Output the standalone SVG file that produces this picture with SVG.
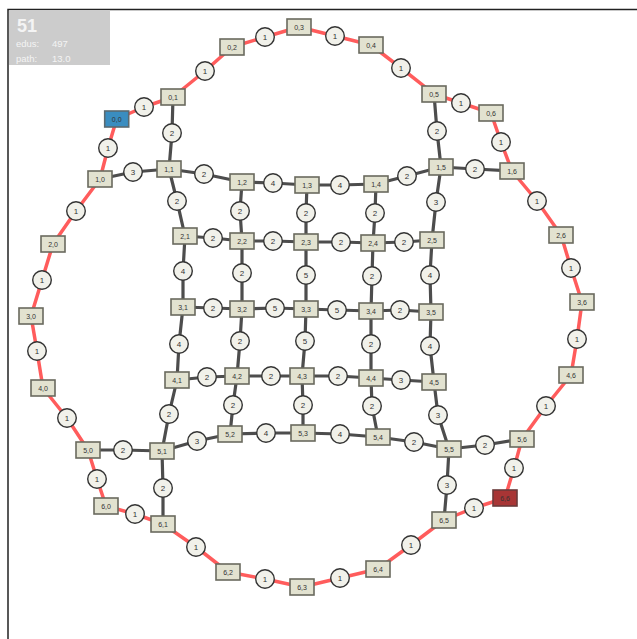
<svg xmlns="http://www.w3.org/2000/svg" width="637" height="639" viewBox="0 0 637 639">
<style>
.bg{fill:#ffffff}
.frame{stroke:#222;stroke-width:1.5;fill:none}
.ring{stroke:#ff5c5c;stroke-width:3.5;fill:none;stroke-linejoin:round}
.grid{stroke:#4d4d4d;stroke-width:3.2;fill:none;stroke-linejoin:round}
.n rect{fill:#e2e2d0;stroke:#6a6a5e;stroke-width:1.6}
.n text{font-family:"Liberation Sans",Arial,sans-serif;font-size:7px;fill:#333;text-anchor:middle;dominant-baseline:central}
.w circle{fill:#f1f1ea;stroke:#333;stroke-width:1.4}
.w text{font-family:"Liberation Sans",Arial,sans-serif;font-size:8px;fill:#333;text-anchor:middle;dominant-baseline:central}
.info{font-family:"Liberation Sans",Arial,sans-serif;fill:#f4f4f4}
</style>
<rect class="bg" x="0" y="0" width="637" height="639"/>
<path class="frame" d="M8,639 V9.5 H637"/>
<g id="info">
<rect x="9" y="10" width="101" height="55" fill="#cccccc"/>
<text class="info" x="17" y="32" font-size="18" font-weight="bold">51</text>
<text class="info" x="16" y="47" font-size="9.5">edus:</text>
<text class="info" x="52" y="47" font-size="9.5">497</text>
<text class="info" x="16" y="62" font-size="9.5">path:</text>
<text class="info" x="52" y="62" font-size="9.5">13.0</text>
</g>
<g id="connectors">
<path class="ring" d="M116.7,119 L144,107 L173,97 L205,71 L232,47 L265,37 L299,27 L335,36 L371,45 L401,68 L434,94 L461,103 L491,113 L501,142 L512,171 L537,201 L561,235 L571,268 L582,302 L577,339 L571,375 L546,406 L522,439 L514,468 L505,498"/>
<path class="ring" d="M116.7,119 L108,148 L100,179 L76,211 L53,244 L42,280 L31,316 L37,351 L43,388 L67,418 L88,450 L97,479 L106,506 L135,514 L163,524 L196,547 L228,572 L265,579 L302,587 L340,578 L378,569 L411,545 L444,520 L474,508 L505,498"/>
<g class="grid">
<path d="M173,97 L172,133 L169,169"/>
<path d="M434,94 L437,131 L441,167"/>
<path d="M100,179 L133,172 L169,169 L204,174 L242,182 L273,183 L307,185 L340,185 L376,184 L407,176 L441,167 L475,169 L512,171"/>
<path d="M185,236 L213,238 L242,241 L273,241 L306,242 L341,242 L373,243 L404,242 L432,240"/>
<path d="M183,307 L213,308 L242,309 L275,308 L306,309 L337,310 L371,311 L400,310 L431,312"/>
<path d="M177,380 L207,377 L237,376 L271,376 L302,376 L338,376 L371,378 L401,380 L434,382"/>
<path d="M88,450 L123,450 L162,451 L197,441 L230,434 L266,433 L303,433 L340,434 L378,437 L414,442 L449,449 L485,445 L522,439"/>
<path d="M169,169 L177,201 L185,236 L183,271 L183,307 L179,344 L177,380 L169,414 L162,451 L163,488 L163,524"/>
<path d="M242,182 L240,211 L242,241 L242,273 L242,309 L240,341 L237,376 L233,405 L230,434"/>
<path d="M307,185 L306,213 L306,242 L306,275 L306,309 L305,341 L302,376 L303,405 L303,433"/>
<path d="M376,184 L375,213 L373,243 L372,276 L371,311 L371,344 L371,378 L372,406 L378,437"/>
<path d="M441,167 L436,202 L432,240 L430,275 L431,312 L430,346 L434,382 L438,415 L449,449 L447,485 L444,520"/>
</g>
</g>
<g id="weights">
<g class="w" id="w-ring">
<circle cx="144" cy="107" r="9.3"/><text x="144" y="107">1</text>
<circle cx="205" cy="71" r="9.3"/><text x="205" y="71">1</text>
<circle cx="265" cy="37" r="9.3"/><text x="265" y="37">1</text>
<circle cx="335" cy="36" r="9.3"/><text x="335" y="36">1</text>
<circle cx="401" cy="68" r="9.3"/><text x="401" y="68">1</text>
<circle cx="461" cy="103" r="9.3"/><text x="461" y="103">1</text>
<circle cx="501" cy="142" r="9.3"/><text x="501" y="142">1</text>
<circle cx="537" cy="201" r="9.3"/><text x="537" y="201">1</text>
<circle cx="571" cy="268" r="9.3"/><text x="571" y="268">1</text>
<circle cx="577" cy="339" r="9.3"/><text x="577" y="339">1</text>
<circle cx="546" cy="406" r="9.3"/><text x="546" y="406">1</text>
<circle cx="514" cy="468" r="9.3"/><text x="514" y="468">1</text>
<circle cx="474" cy="508" r="9.3"/><text x="474" y="508">1</text>
<circle cx="411" cy="545" r="9.3"/><text x="411" y="545">1</text>
<circle cx="340" cy="578" r="9.3"/><text x="340" y="578">1</text>
<circle cx="265" cy="579" r="9.3"/><text x="265" y="579">1</text>
<circle cx="196" cy="547" r="9.3"/><text x="196" y="547">1</text>
<circle cx="135" cy="514" r="9.3"/><text x="135" y="514">1</text>
<circle cx="97" cy="479" r="9.3"/><text x="97" y="479">1</text>
<circle cx="67" cy="418" r="9.3"/><text x="67" y="418">1</text>
<circle cx="37" cy="351" r="9.3"/><text x="37" y="351">1</text>
<circle cx="42" cy="280" r="9.3"/><text x="42" y="280">1</text>
<circle cx="76" cy="211" r="9.3"/><text x="76" y="211">1</text>
<circle cx="108" cy="148" r="9.3"/><text x="108" y="148">1</text>
</g>
<g class="w" id="w-grid">
<circle cx="172" cy="133" r="9.3"/><text x="172" y="133">2</text>
<circle cx="437" cy="131" r="9.3"/><text x="437" y="131">2</text>
<circle cx="133" cy="172" r="9.3"/><text x="133" y="172">3</text>
<circle cx="204" cy="174" r="9.3"/><text x="204" y="174">2</text>
<circle cx="273" cy="183" r="9.3"/><text x="273" y="183">4</text>
<circle cx="340" cy="185" r="9.3"/><text x="340" y="185">4</text>
<circle cx="407" cy="176" r="9.3"/><text x="407" y="176">2</text>
<circle cx="475" cy="169" r="9.3"/><text x="475" y="169">2</text>
<circle cx="177" cy="201" r="9.3"/><text x="177" y="201">2</text>
<circle cx="240" cy="211" r="9.3"/><text x="240" y="211">2</text>
<circle cx="306" cy="213" r="9.3"/><text x="306" y="213">2</text>
<circle cx="375" cy="213" r="9.3"/><text x="375" y="213">2</text>
<circle cx="436" cy="202" r="9.3"/><text x="436" y="202">3</text>
<circle cx="213" cy="238" r="9.3"/><text x="213" y="238">2</text>
<circle cx="273" cy="241" r="9.3"/><text x="273" y="241">2</text>
<circle cx="341" cy="242" r="9.3"/><text x="341" y="242">2</text>
<circle cx="404" cy="242" r="9.3"/><text x="404" y="242">2</text>
<circle cx="183" cy="271" r="9.3"/><text x="183" y="271">4</text>
<circle cx="242" cy="273" r="9.3"/><text x="242" y="273">2</text>
<circle cx="306" cy="275" r="9.3"/><text x="306" y="275">5</text>
<circle cx="372" cy="276" r="9.3"/><text x="372" y="276">2</text>
<circle cx="430" cy="275" r="9.3"/><text x="430" y="275">4</text>
<circle cx="213" cy="308" r="9.3"/><text x="213" y="308">2</text>
<circle cx="275" cy="308" r="9.3"/><text x="275" y="308">5</text>
<circle cx="337" cy="310" r="9.3"/><text x="337" y="310">5</text>
<circle cx="400" cy="310" r="9.3"/><text x="400" y="310">2</text>
<circle cx="179" cy="344" r="9.3"/><text x="179" y="344">4</text>
<circle cx="240" cy="341" r="9.3"/><text x="240" y="341">2</text>
<circle cx="305" cy="341" r="9.3"/><text x="305" y="341">5</text>
<circle cx="371" cy="344" r="9.3"/><text x="371" y="344">2</text>
<circle cx="430" cy="346" r="9.3"/><text x="430" y="346">4</text>
<circle cx="207" cy="377" r="9.3"/><text x="207" y="377">2</text>
<circle cx="271" cy="376" r="9.3"/><text x="271" y="376">2</text>
<circle cx="338" cy="376" r="9.3"/><text x="338" y="376">2</text>
<circle cx="401" cy="380" r="9.3"/><text x="401" y="380">3</text>
<circle cx="169" cy="414" r="9.3"/><text x="169" y="414">2</text>
<circle cx="233" cy="405" r="9.3"/><text x="233" y="405">2</text>
<circle cx="303" cy="405" r="9.3"/><text x="303" y="405">2</text>
<circle cx="372" cy="406" r="9.3"/><text x="372" y="406">2</text>
<circle cx="438" cy="415" r="9.3"/><text x="438" y="415">3</text>
<circle cx="123" cy="450" r="9.3"/><text x="123" y="450">2</text>
<circle cx="197" cy="441" r="9.3"/><text x="197" y="441">3</text>
<circle cx="266" cy="433" r="9.3"/><text x="266" y="433">4</text>
<circle cx="340" cy="434" r="9.3"/><text x="340" y="434">4</text>
<circle cx="414" cy="442" r="9.3"/><text x="414" y="442">2</text>
<circle cx="485" cy="445" r="9.3"/><text x="485" y="445">2</text>
<circle cx="163" cy="488" r="9.3"/><text x="163" y="488">2</text>
<circle cx="447" cy="485" r="9.3"/><text x="447" y="485">3</text>
</g>
</g>
<g id="nodes">
<g class="n" id="n0-0"><rect x="104.7" y="111" width="24" height="16" style="fill:#3a8dc0;stroke:#5a6a70"/><text x="116.7" y="119">0,0</text></g>
<g class="n" id="n0-1"><rect x="161" y="89" width="24" height="16"/><text x="173" y="97">0,1</text></g>
<g class="n" id="n0-2"><rect x="220" y="39" width="24" height="16"/><text x="232" y="47">0,2</text></g>
<g class="n" id="n0-3"><rect x="287" y="19" width="24" height="16"/><text x="299" y="27">0,3</text></g>
<g class="n" id="n0-4"><rect x="359" y="37" width="24" height="16"/><text x="371" y="45">0,4</text></g>
<g class="n" id="n0-5"><rect x="422" y="86" width="24" height="16"/><text x="434" y="94">0,5</text></g>
<g class="n" id="n0-6"><rect x="479" y="105" width="24" height="16"/><text x="491" y="113">0,6</text></g>
<g class="n" id="n1-0"><rect x="88" y="171" width="24" height="16"/><text x="100" y="179">1,0</text></g>
<g class="n" id="n1-1"><rect x="157" y="161" width="24" height="16"/><text x="169" y="169">1,1</text></g>
<g class="n" id="n1-2"><rect x="230" y="174" width="24" height="16"/><text x="242" y="182">1,2</text></g>
<g class="n" id="n1-3"><rect x="295" y="177" width="24" height="16"/><text x="307" y="185">1,3</text></g>
<g class="n" id="n1-4"><rect x="364" y="176" width="24" height="16"/><text x="376" y="184">1,4</text></g>
<g class="n" id="n1-5"><rect x="429" y="159" width="24" height="16"/><text x="441" y="167">1,5</text></g>
<g class="n" id="n1-6"><rect x="500" y="163" width="24" height="16"/><text x="512" y="171">1,6</text></g>
<g class="n" id="n2-0"><rect x="41" y="236" width="24" height="16"/><text x="53" y="244">2,0</text></g>
<g class="n" id="n2-1"><rect x="173" y="228" width="24" height="16"/><text x="185" y="236">2,1</text></g>
<g class="n" id="n2-2"><rect x="230" y="233" width="24" height="16"/><text x="242" y="241">2,2</text></g>
<g class="n" id="n2-3"><rect x="294" y="234" width="24" height="16"/><text x="306" y="242">2,3</text></g>
<g class="n" id="n2-4"><rect x="361" y="235" width="24" height="16"/><text x="373" y="243">2,4</text></g>
<g class="n" id="n2-5"><rect x="420" y="232" width="24" height="16"/><text x="432" y="240">2,5</text></g>
<g class="n" id="n2-6"><rect x="549" y="227" width="24" height="16"/><text x="561" y="235">2,6</text></g>
<g class="n" id="n3-0"><rect x="19" y="308" width="24" height="16"/><text x="31" y="316">3,0</text></g>
<g class="n" id="n3-1"><rect x="171" y="299" width="24" height="16"/><text x="183" y="307">3,1</text></g>
<g class="n" id="n3-2"><rect x="230" y="301" width="24" height="16"/><text x="242" y="309">3,2</text></g>
<g class="n" id="n3-3"><rect x="294" y="301" width="24" height="16"/><text x="306" y="309">3,3</text></g>
<g class="n" id="n3-4"><rect x="359" y="303" width="24" height="16"/><text x="371" y="311">3,4</text></g>
<g class="n" id="n3-5"><rect x="419" y="304" width="24" height="16"/><text x="431" y="312">3,5</text></g>
<g class="n" id="n3-6"><rect x="570" y="294" width="24" height="16"/><text x="582" y="302">3,6</text></g>
<g class="n" id="n4-0"><rect x="31" y="380" width="24" height="16"/><text x="43" y="388">4,0</text></g>
<g class="n" id="n4-1"><rect x="165" y="372" width="24" height="16"/><text x="177" y="380">4,1</text></g>
<g class="n" id="n4-2"><rect x="225" y="368" width="24" height="16"/><text x="237" y="376">4,2</text></g>
<g class="n" id="n4-3"><rect x="290" y="368" width="24" height="16"/><text x="302" y="376">4,3</text></g>
<g class="n" id="n4-4"><rect x="359" y="370" width="24" height="16"/><text x="371" y="378">4,4</text></g>
<g class="n" id="n4-5"><rect x="422" y="374" width="24" height="16"/><text x="434" y="382">4,5</text></g>
<g class="n" id="n4-6"><rect x="559" y="367" width="24" height="16"/><text x="571" y="375">4,6</text></g>
<g class="n" id="n5-0"><rect x="76" y="442" width="24" height="16"/><text x="88" y="450">5,0</text></g>
<g class="n" id="n5-1"><rect x="150" y="443" width="24" height="16"/><text x="162" y="451">5,1</text></g>
<g class="n" id="n5-2"><rect x="218" y="426" width="24" height="16"/><text x="230" y="434">5,2</text></g>
<g class="n" id="n5-3"><rect x="291" y="425" width="24" height="16"/><text x="303" y="433">5,3</text></g>
<g class="n" id="n5-4"><rect x="366" y="429" width="24" height="16"/><text x="378" y="437">5,4</text></g>
<g class="n" id="n5-5"><rect x="437" y="441" width="24" height="16"/><text x="449" y="449">5,5</text></g>
<g class="n" id="n5-6"><rect x="510" y="431" width="24" height="16"/><text x="522" y="439">5,6</text></g>
<g class="n" id="n6-0"><rect x="94" y="498" width="24" height="16"/><text x="106" y="506">6,0</text></g>
<g class="n" id="n6-1"><rect x="151" y="516" width="24" height="16"/><text x="163" y="524">6,1</text></g>
<g class="n" id="n6-2"><rect x="216" y="564" width="24" height="16"/><text x="228" y="572">6,2</text></g>
<g class="n" id="n6-3"><rect x="290" y="579" width="24" height="16"/><text x="302" y="587">6,3</text></g>
<g class="n" id="n6-4"><rect x="366" y="561" width="24" height="16"/><text x="378" y="569">6,4</text></g>
<g class="n" id="n6-5"><rect x="432" y="512" width="24" height="16"/><text x="444" y="520">6,5</text></g>
<g class="n" id="n6-6"><rect x="493" y="490" width="24" height="16" style="fill:#a83535;stroke:#6a3a3a"/><text x="505" y="498">6,6</text></g>
</g>
</svg>
